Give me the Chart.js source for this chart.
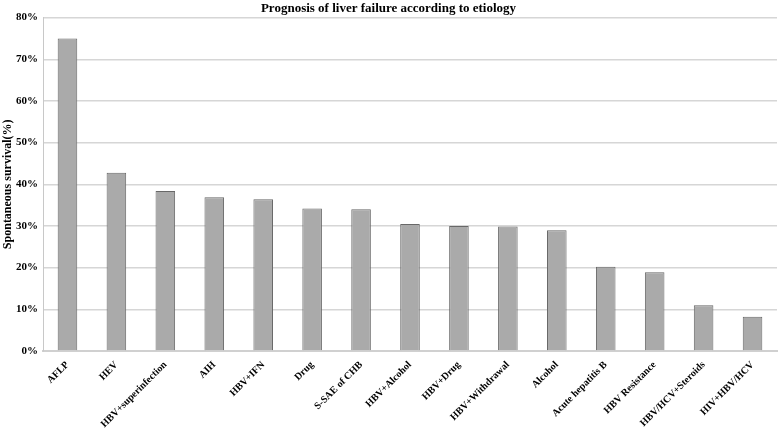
<!DOCTYPE html>
<html>
<head>
<meta charset="utf-8">
<script src="https://cdn.jsdelivr.net/npm/chart.js@4.4.1/dist/chart.umd.min.js"></script>
<style>
  html, body { margin: 0; padding: 0; background: #fff; }
  #wrap { width: 778px; height: 428px; position: relative; }
</style>
</head>
<body>
<div id="wrap"><canvas id="etiologyBar"></canvas></div>
<script>
  const etiologies = [
    'AFLP', 'HEV', 'HBV+superinfection', 'AIH', 'HBV+IFN', 'Drug', 'S-SAE of CHB',
    'HBV+Alcohol', 'HBV+Drug', 'HBV+Withdrawal', 'Alcohol', 'Acute hepatitis B',
    'HBV Resistance', 'HBV/HCV+Steroids', 'HIV+HBV/HCV'
  ];
  const survival = [75.0, 42.8, 38.4, 36.9, 36.4, 34.2, 34.0, 30.5, 30.0, 29.9, 29.0, 20.2, 18.9, 11.0, 8.2];
  const yTicks = [0, 10, 20, 30, 40, 50, 60, 70, 80];

  const serif = '"Liberation Serif", "Times New Roman", serif';

  const ctx = document.getElementById('etiologyBar').getContext('2d');
  new Chart(ctx, {
    type: 'bar',
    data: {
      labels: etiologies,
      datasets: [{
        label: 'Spontaneous survival',
        data: survival,
        backgroundColor: '#aaaaaa',
        borderColor: '#686868',
        borderWidth: 1,
        barPercentage: 0.4,
        categoryPercentage: 1.0
      }]
    },
    options: {
      responsive: true,
      maintainAspectRatio: false,
      animation: false,
      layout: { padding: { left: 0, right: 1, top: 1, bottom: 0 } },
      plugins: {
        legend: { display: false },
        tooltip: { enabled: false },
        title: {
          display: true,
          text: 'Prognosis of liver failure according to etiology',
          color: '#000',
          font: { family: serif, size: 13, weight: 'bold' },
          padding: { top: 0, bottom: 1 }
        }
      },
      scales: {
        x: {
          grid: { display: false, drawTicks: false },
          border: { color: '#d0d0d0', width: 2 },
          ticks: {
            color: '#000',
            font: { family: serif, size: 10, weight: 'bold' },
            maxRotation: 45,
            minRotation: 45,
            autoSkip: false,
            padding: 8
          },
          afterFit: scale => { scale.height = 77; }
        },
        y: {
          min: 0,
          max: 80,
          afterBuildTicks: axis => { axis.ticks = yTicks.map(v => ({ value: v })); },
          grid: { color: '#d6d6d6', lineWidth: 1.5, drawTicks: false },
          border: { color: '#c8c8c8', width: 1 },
          ticks: {
            color: '#000',
            font: { family: serif, size: 11, weight: 'bold' },
            padding: 5,
            callback: v => v + '%'
          },
          title: {
            display: true,
            text: 'Spontaneous survival(%)',
            color: '#000',
            font: { family: serif, size: 12, weight: 'bold' },
            padding: { top: 1, bottom: 0 }
          },
          afterFit: scale => { scale.width = 43; }
        }
      }
    }
  });
</script>
</body>
</html>
